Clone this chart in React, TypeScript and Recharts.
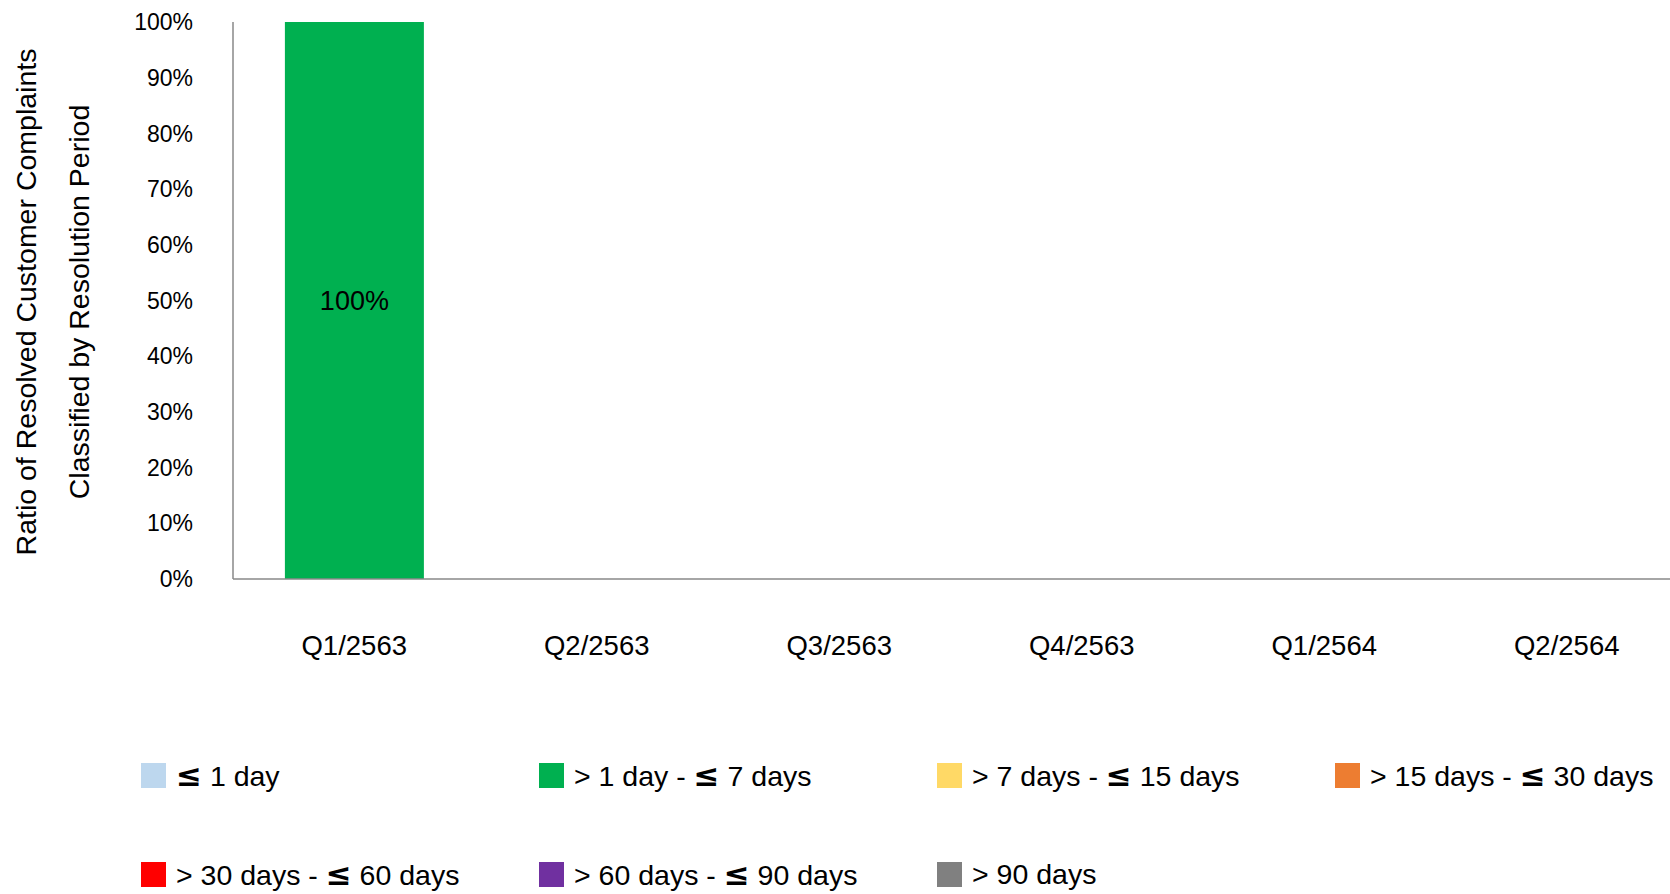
import React from 'react';
import { BarChart, Bar, XAxis, YAxis, Legend, LabelList } from 'recharts';

const quarters = ['Q1/2563', 'Q2/2563', 'Q3/2563', 'Q4/2563', 'Q1/2564', 'Q2/2564'];
const periodKeys = ['d1', 'd7', 'd15', 'd30', 'd60', 'd90', 'over90'];
const periodLabels = [
  '≤ 1 day',
  '> 1 day - ≤ 7 days',
  '> 7 days - ≤ 15 days',
  '> 15 days - ≤ 30 days',
  '> 30 days - ≤ 60 days',
  '> 60 days - ≤ 90 days',
  '> 90 days',
];
const periodColors = ['#BDD7EE', '#00B050', '#FFD966', '#ED7D31', '#FF0000', '#7030A0', '#808080'];

// percent per quarter, one array per period
const d1 = [0, 0, 0, 0, 0, 0];
const d7 = [100, 0, 0, 0, 0, 0];
const d15 = [0, 0, 0, 0, 0, 0];
const d30 = [0, 0, 0, 0, 0, 0];
const d60 = [0, 0, 0, 0, 0, 0];
const d90 = [0, 0, 0, 0, 0, 0];
const over90 = [0, 0, 0, 0, 0, 0];
const yTicks = [0, 10, 20, 30, 40, 50, 60, 70, 80, 90, 100];

const seriesValues = [d1, d7, d15, d30, d60, d90, over90];

const data = quarters.map((q, i) => {
  const row: any = { name: q };
  periodKeys.forEach((k, j) => {
    row[k] = seriesValues[j][i];
  });
  return row;
});

const FONT = "'Liberation Sans', Arial, sans-serif";

const renderLabel = (text: string) => {
  const idx = text.indexOf('≤');
  if (idx < 0) return text;
  return (
    <>
      {text.slice(0, idx)}
      <span style={{ fontFamily: "'DejaVu Sans', sans-serif", fontSize: 31, fontWeight: 'bold' }}>≤</span>
      {text.slice(idx + 1)}
    </>
  );
};

const LegendContent = () => (
  <div style={{ position: 'relative', width: 1670, height: 235, fontFamily: FONT, fontSize: 28.5, color: '#000' }}>
    {periodLabels.map((label, i) => {
      const col = i < 4 ? i : i - 4;
      const row = i < 4 ? 0 : 1;
      return (
        <div
          key={label}
          style={{
            position: 'absolute',
            left: 141 + col * 398,
            top: 116 + row * 99 - 18,
            height: 36,
            display: 'flex',
            alignItems: 'center',
            whiteSpace: 'nowrap',
          }}
        >
          <span style={{ display: 'inline-block', width: 25, height: 25, background: periodColors[i], marginRight: 10 }} />
          <span>{renderLabel(label)}</span>
        </div>
      );
    })}
  </div>
);

const YTitle = () => (
  <g fontFamily={FONT} fontSize={28.5} fill="#000">
    <text x={26} y={302} transform="rotate(-90 26 302)" textAnchor="middle" dominantBaseline="central">
      Ratio of Resolved Customer Complaints
    </text>
    <text x={79} y={302} transform="rotate(-90 79 302)" textAnchor="middle" dominantBaseline="central">
      Classified by Resolution Period
    </text>
  </g>
);

const App = () => {
  return (
    <div style={{ position: 'absolute', left: 0, top: 0, width: 1670, height: 894, overflow: 'hidden' }}>
      <BarChart width={1670} height={894} data={data} margin={{ top: 22, right: -18, left: 0, bottom: 0 }} barCategoryGap="21.4%">
        <XAxis
          dataKey="name"
          axisLine={{ stroke: '#898989', strokeWidth: 1.5 }}
          tickLine={false}
          tickSize={0}
          tickMargin={56}
          height={80}
          tick={{ fill: '#000', fontSize: 27.5, fontFamily: FONT }}
        />
        <YAxis
          width={233}
          domain={[0, 100]}
          ticks={yTicks}
          interval={0}
          tickFormatter={(v: number) => `${v}%`}
          axisLine={{ stroke: '#898989', strokeWidth: 1.5 }}
          tickLine={false}
          tickSize={0}
          tickMargin={40}
          tick={{ fill: '#000', fontSize: 23, fontFamily: FONT }}
          label={<YTitle />}
        />
        <Legend
          verticalAlign="bottom"
          content={<LegendContent />}
          wrapperStyle={{ position: 'absolute', left: 0, top: 659, width: 1670, height: 235 }}
        />
        {periodKeys.map((k, i) => (
          <Bar key={k} dataKey={k} name={periodLabels[i]} stackId="a" fill={periodColors[i]} isAnimationActive={false}>
            <LabelList
              dataKey={k}
              position="center"
              fill="#000"
              fontSize={27}
              fontFamily={FONT}
              formatter={(v: any) => (v > 0 ? `${v}%` : '')}
            />
          </Bar>
        ))}
      </BarChart>
    </div>
  );
};

export default App;
